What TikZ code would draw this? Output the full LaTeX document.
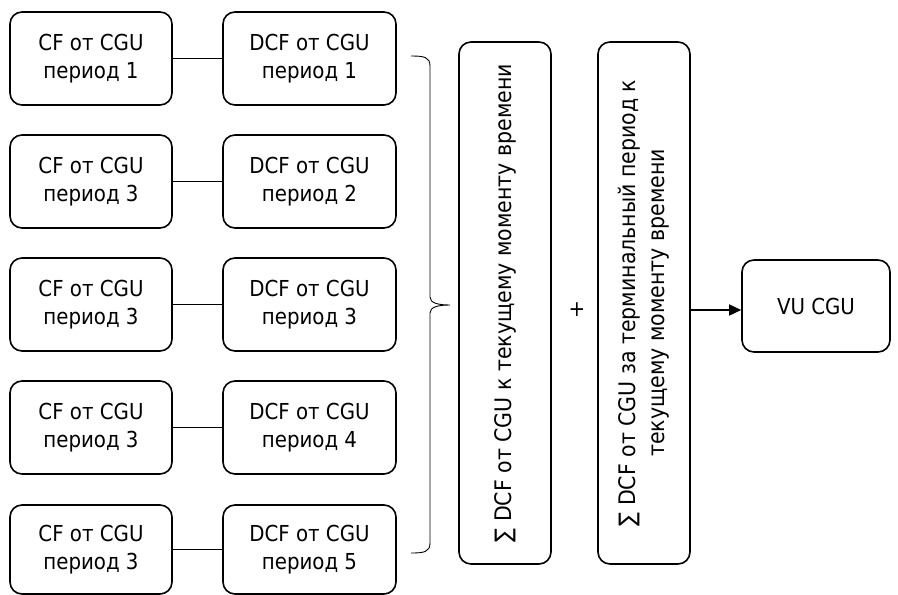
\documentclass[tikz,border=0pt]{standalone}
\usepackage{fontspec}
\setmainfont{DejaVu Sans Condensed}
\usetikzlibrary{arrows.meta}
\begin{document}
\begin{tikzpicture}[x=1pt,y=-1pt,
  txt/.style={font=\fontsize{22}{28}\selectfont},
  rtxt/.style={font=\fontsize{22.8}{29}\selectfont,rotate=90,inner sep=0pt,align=center},
  box/.style={draw,line width=1.6pt,rounded corners=12pt,align=center,inner sep=0pt,txt},
  link/.style={line width=0.9pt},
  brace/.style={line width=0.9pt},
  arr/.style={line width=1.6pt,-{Triangle[length=12pt,width=11pt]}}]
\useasboundingbox (0,0) rectangle (898,595);
% left column
\foreach \i/\y/\h/\p/\q in {1/58.5/93/1/1, 2/181.5/93/3/2, 3/304.5/93/3/3, 4/427.5/93/3/4, 5/549.5/89/3/5}{
  \node[box,minimum width=162pt,minimum height=\h pt] (L\i) at (91,\y) {CF от CGU\\период \p};
  \node[box,minimum width=173pt,minimum height=\h pt] (R\i) at (309.5,\y) {DCF от CGU\\период \q};
  \draw[link] (L\i.east) -- (R\i.west);
}
% sum boxes
\node[box,minimum width=92pt,minimum height=522pt] (S1) at (505,303) {};
\node[rtxt] (S1t) at (S1.center) {∑ DCF от CGU к текущему моменту времени};
\node[box,minimum width=92pt,minimum height=522pt] (S2) at (644,303) {};
\node[rtxt] (S2t) at (S2.center) {∑ DCF от CGU за терминальный период к\\текущему моменту времени};
\node[txt,inner sep=0pt] (plus) at (577,310) {+};
\node[box,minimum width=148pt,minimum height=92pt] (VU) at (816,306) {VU CGU};
\coordinate (A0) at (S2.east |- 0,310);
\coordinate (A1) at (VU.west |- 0,310);
\draw[arr] (A0) -- (A1);
% brace
\coordinate (B0) at (411,56);
\coordinate (B1) at (411,553);
\coordinate (BT) at (450,305);
\draw[brace] (B0) .. controls (424,56) and (430,57) .. (430,66) -- (430,297)
  .. controls (430,303) and (438,305) .. (BT)
  .. controls (438,305) and (430,307) .. (430,313) -- (430,543)
  .. controls (430,552) and (424,553) .. (B1);
\end{tikzpicture}
\end{document}
